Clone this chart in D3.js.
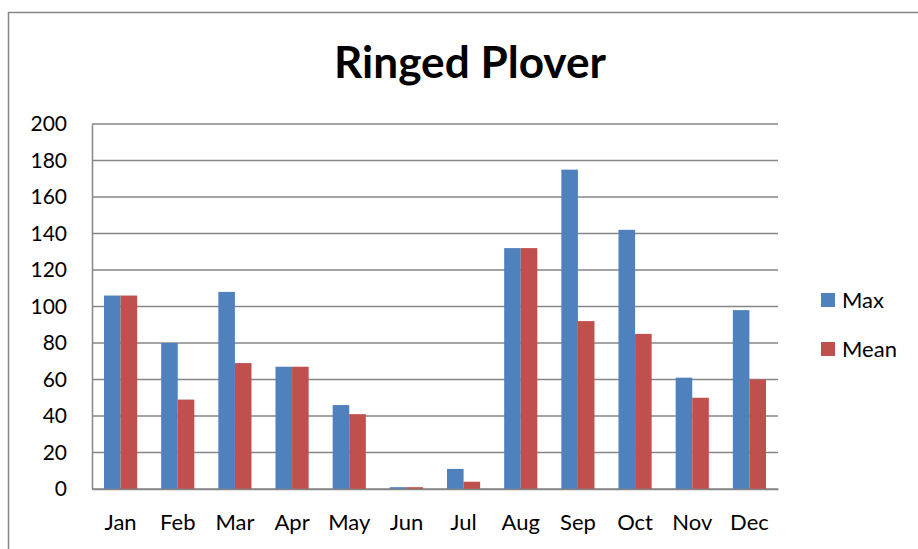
<!DOCTYPE html>
<html>
<head>
<meta charset="utf-8">
<script src="https://cdn.jsdelivr.net/npm/d3@7"></script>
<style>
  html, body { margin: 0; padding: 0; background: #fff; }
  svg { display: block; font-family: Lato, "Open Sans", sans-serif; }
</style>
</head>
<body>
<svg id="chart" width="918" height="549"></svg>
<script>
const title = "Ringed Plover";
const months = ["Jan","Feb","Mar","Apr","May","Jun","Jul","Aug","Sep","Oct","Nov","Dec"];
const seriesNames = ["Max","Mean"];
const maxValues = [106, 80, 108, 67, 46, 1, 11, 132, 175, 142, 61, 98];
const meanValues = [106, 49, 69, 67, 41, 1, 4, 132, 92, 85, 50, 60];
const yTicks = [0, 20, 40, 60, 80, 100, 120, 140, 160, 180, 200];
const colors = ["#4F81BD", "#C0504D"];

const svg = d3.select("#chart");
const margin = {left: 92, top: 124};
const plotRight = 778, plotBottom = 489;

// outer chart border
svg.append("rect").attr("x", 8.5).attr("y", 12.5).attr("width", 940).attr("height", 600)
  .attr("fill", "none").attr("stroke", "#868686").attr("stroke-width", 1.5);

svg.append("text").attr("x", 470).attr("y", 78).attr("text-anchor", "middle")
  .attr("font-size", 43).attr("font-weight", "bold").attr("fill", "#000")
  .attr("textLength", 272).attr("lengthAdjust", "spacingAndGlyphs").text(title);

const x0 = d3.scaleBand().domain(months).range([margin.left, plotRight]).paddingInner(0.42).paddingOuter(0.21);
const x1 = d3.scaleBand().domain(seriesNames).range([0, x0.bandwidth()]);
const y = d3.scaleLinear().domain([0, 200]).range([plotBottom, margin.top]);

// gridlines
svg.append("g").selectAll("line").data(yTicks).join("line")
  .attr("x1", margin.left).attr("x2", plotRight)
  .attr("y1", d => y(d)).attr("y2", d => y(d))
  .attr("stroke", "#868686").attr("stroke-width", 1.5);

// y axis
const yAxis = svg.append("g").attr("transform", `translate(${margin.left},0)`)
  .call(d3.axisLeft(y).tickValues(yTicks).tickSize(0).tickPadding(25));
yAxis.select(".domain").attr("stroke", "#868686").attr("stroke-width", 1.5);
yAxis.selectAll("text").attr("font-size", 21).attr("fill", "#000").attr("font-family", "Lato, sans-serif");

// bars
const data = months.map((m, i) => ({month: m, values: [maxValues[i], meanValues[i]]}));
const groups = svg.append("g").selectAll("g").data(data).join("g")
  .attr("transform", d => `translate(${x0(d.month)},0)`);
groups.selectAll("rect").data(d => d.values.map((v, j) => ({name: seriesNames[j], v, j})))
  .join("rect")
  .attr("x", d => x1(d.name)).attr("width", x1.bandwidth())
  .attr("y", d => y(d.v)).attr("height", d => plotBottom - y(d.v))
  .attr("fill", d => colors[d.j]);

// x axis
const xAxis = svg.append("g").attr("transform", `translate(0,${plotBottom})`)
  .call(d3.axisBottom(x0).tickSize(0).tickPadding(25));
xAxis.select(".domain").attr("stroke", "#868686").attr("stroke-width", 1.5);
xAxis.selectAll("text").attr("font-size", 22).attr("fill", "#000").attr("font-family", "Lato, sans-serif");

// legend
const legend = svg.append("g").selectAll("g").data(seriesNames).join("g")
  .attr("transform", (d, i) => `translate(821,${293 + i * 49})`);
legend.append("rect").attr("width", 14).attr("height", 14).attr("fill", (d, i) => colors[i]);
legend.append("text").attr("x", 21).attr("y", 15).attr("font-size", 22).attr("fill", "#000").text(d => d);
</script>
</body>
</html>
